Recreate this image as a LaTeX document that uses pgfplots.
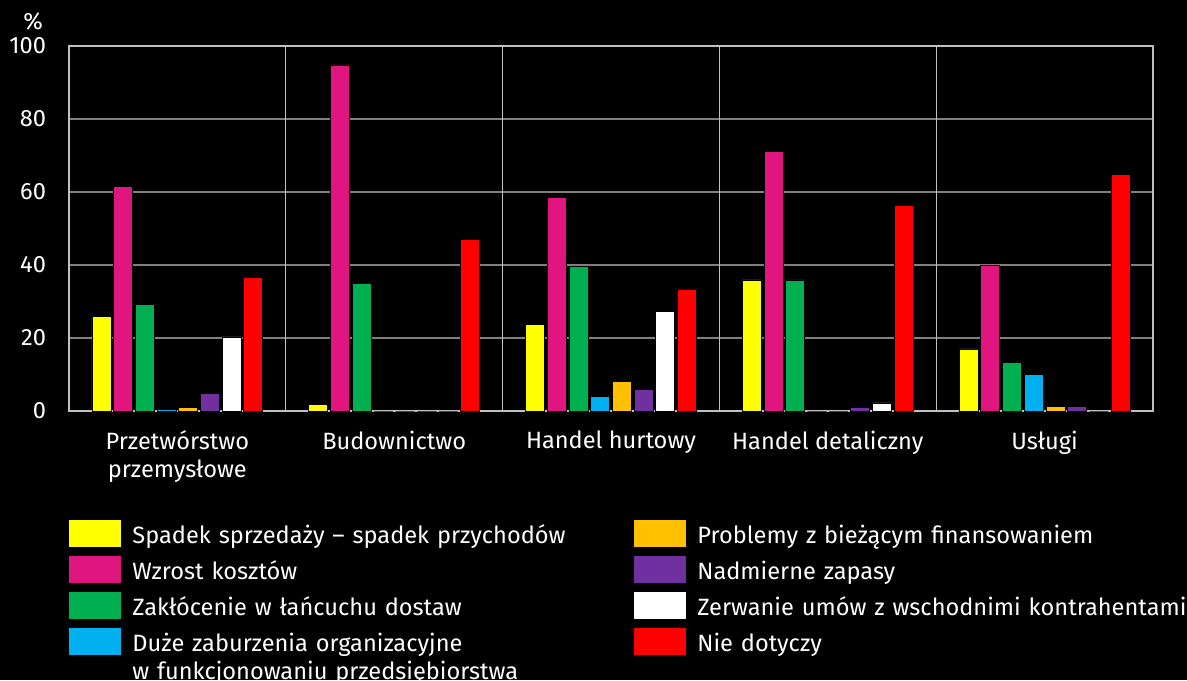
\documentclass[border=0pt]{standalone}
\usepackage{pgfplots}
\pgfplotsset{compat=1.18}
\usepackage{fontspec}
\setmainfont{Fira Sans}
\definecolor{cYellow}{HTML}{FFFF00}
\definecolor{cMagenta}{HTML}{E0157F}
\definecolor{cGreen}{HTML}{00B050}
\definecolor{cBlue}{HTML}{00B0F0}
\definecolor{cOrange}{HTML}{FFC000}
\definecolor{cPurple}{HTML}{7030A0}
\definecolor{cWhite}{HTML}{FFFFFF}
\definecolor{cRed}{HTML}{FF0000}
\definecolor{gridgray}{HTML}{808080}
\definecolor{linegray}{HTML}{C0C0C0}
\begin{document}
\begin{tikzpicture}
\fill[black] (0,0) rectangle (593.5pt,340pt);
\useasboundingbox (0,0) rectangle (593.5pt,340pt);
\begin{axis}[
  at={(34.5pt,134.5pt)}, anchor=south west,
  scale only axis, width=542pt, height=182.5pt,
  clip=false,
  font=\fontsize{11.8}{14}\selectfont,
  /pgf/number format/assume math mode=true,
  ybar, bar width=9.5pt,
  xmin=-0.5, xmax=4.5, ymin=0, ymax=100,
  xtick={0,1,2,3,4},
  xticklabels={{Przetwórstwo\\przemysłowe},Budownictwo,Handel hurtowy,Handel detaliczny,Usługi},
  xticklabel style={align=center, text=white, yshift=-2pt},
  major x tick style={draw=none},
  extra x ticks={-0.5,0.5,1.5,2.5,3.5,4.5},
  extra x tick labels={},
  extra x tick style={grid=major, tick align=outside, major tick length=4.5pt,
     major grid style={linegray, line width=0.6pt}, major tick style={linegray, line width=0.6pt}},
  ytick={0,20,40,60,80,100},
  ymajorgrids, major grid style={gridgray, line width=0.6pt},
  major y tick style={draw=none},
  yticklabel style={text=white, xshift=-8pt},
  axis line style={linegray, line width=0.6pt},
  legend style={at={(0,-0.2986)}, anchor=north west, draw=none, fill=none,
     inner sep=0pt, text=white, font=\fontsize{11.8}{14}\selectfont,
     nodes={inner sep=0pt, text height=11.5pt, text depth=6.5pt, text width=245pt, align=left, anchor=base west},
     /tikz/every odd column/.append style={column sep=5.5pt},
     /tikz/every even column/.append style={column sep=6pt}},
  legend columns=4, transpose legend,
  legend image code/.code={\fill[#1, draw=none] (0pt,-2pt) rectangle (26pt,11.5pt);},
  every axis plot/.append style={draw=black, line width=0.4pt},
]
\addplot[fill=cYellow, bar shift=-37.975pt] coordinates {(0,25.8) (1,1.8) (2,23.7) (3,35.9) (4,17.0)};
\addplot[fill=cMagenta, bar shift=-27.125pt] coordinates {(0,61.6) (1,94.8) (2,58.4) (3,71.2) (4,40.0)};
\addplot[fill=cGreen, bar shift=-16.275pt] coordinates {(0,29.2) (1,35.0) (2,39.7) (3,35.9) (4,13.3)};
\addplot[fill=cBlue, bar shift=-5.425pt] coordinates {(0,0.5) (1,0) (2,4.0) (3,0) (4,9.9)};
\addplot[fill=cOrange, bar shift=5.425pt] coordinates {(0,1.0) (1,0) (2,8.2) (3,0) (4,1.2)};
\addplot[fill=cPurple, bar shift=16.275pt] coordinates {(0,4.9) (1,0) (2,6.0) (3,1.1) (4,1.2)};
\addplot[fill=cWhite, bar shift=27.125pt] coordinates {(0,20.3) (1,0) (2,27.3) (3,2.2) (4,0)};
\addplot[fill=cRed, bar shift=37.975pt] coordinates {(0,36.7) (1,47.1) (2,33.3) (3,56.4) (4,64.7)};
\legend{Spadek sprzedaży – spadek przychodów, Wzrost kosztów, Zakłócenie w łańcuchu dostaw, {Duże zaburzenia organizacyjne\\w funkcjonowaniu przedsiębiorstwa}, Problemy z bieżącym finansowaniem, Nadmierne zapasy, \mbox{Zerwanie umów z wschodnimi kontrahentami}, Nie dotyczy}
\node[text=white, font=\fontsize{11.8}{14}\selectfont, anchor=base] at (axis description cs:-0.033,1.045) {\%};
\end{axis}
\end{tikzpicture}
\end{document}
